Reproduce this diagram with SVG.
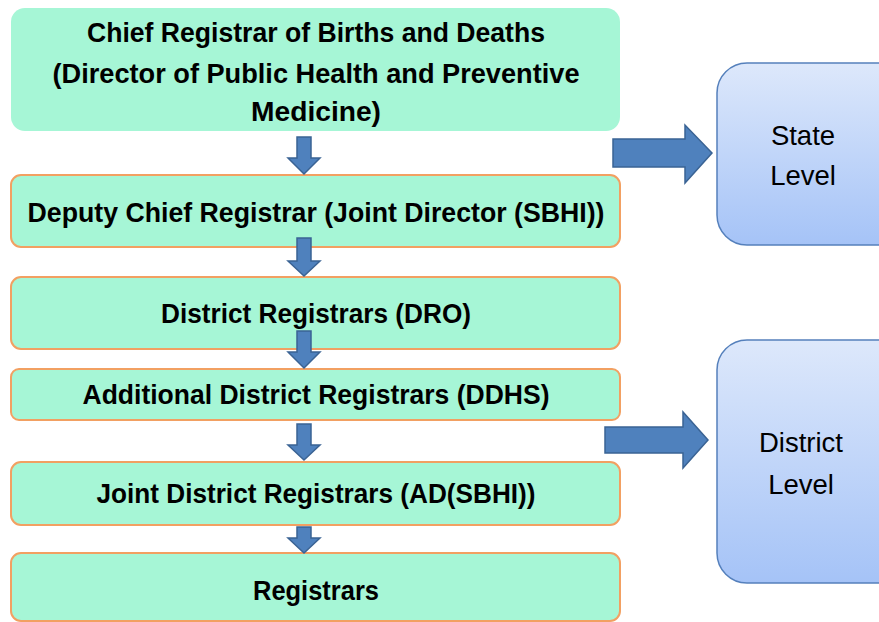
<svg xmlns="http://www.w3.org/2000/svg" width="879" height="622" viewBox="0 0 879 622">
<defs>
<linearGradient id="blueGrad" x1="0" y1="0" x2="0" y2="1">
<stop offset="0" stop-color="#DDE8FB"/>
<stop offset="1" stop-color="#A5C3F7"/>
</linearGradient>
<style>
.box{fill:#A6F6D6;stroke:#F2A062;stroke-width:2}
.top{fill:#A6F6D6;stroke:none}
.lvl{fill:url(#blueGrad);stroke:#5580BC;stroke-width:1.5}
.t{font-family:"Liberation Sans",Arial,sans-serif;font-weight:bold;font-size:27.5px;fill:#000;text-anchor:middle}
.l{font-family:"Liberation Sans",Arial,sans-serif;font-size:27.5px;fill:#000;text-anchor:middle}
.arr{fill:#4F81BD;stroke:#3A6394;stroke-width:1.5}
</style>
</defs>
<g id="chief">
<rect class="top" x="11" y="8" width="609" height="123" rx="14"/>
<text class="t" x="316" y="42" textLength="458" lengthAdjust="spacingAndGlyphs">Chief Registrar of Births and Deaths</text>
<text class="t" x="316" y="83" textLength="527" lengthAdjust="spacingAndGlyphs">(Director of Public Health and Preventive</text>
<text class="t" x="316" y="121" textLength="130" lengthAdjust="spacingAndGlyphs">Medicine)</text>
</g>
<g id="deputy">
<rect class="box" x="11" y="175" width="609" height="72" rx="10"/>
<text class="t" x="316" y="222" textLength="577" lengthAdjust="spacingAndGlyphs">Deputy Chief Registrar (Joint Director (SBHI))</text>
</g>
<g id="dro">
<rect class="box" x="11" y="277" width="609" height="72" rx="10"/>
<text class="t" x="316" y="323" textLength="310" lengthAdjust="spacingAndGlyphs">District Registrars (DRO)</text>
</g>
<g id="ddhs">
<rect class="box" x="11" y="369" width="609" height="51" rx="8"/>
<text class="t" x="316" y="404" textLength="467" lengthAdjust="spacingAndGlyphs">Additional District Registrars (DDHS)</text>
</g>
<g id="adsbhi">
<rect class="box" x="11" y="462" width="609" height="63" rx="10"/>
<text class="t" x="316" y="503" textLength="439" lengthAdjust="spacingAndGlyphs">Joint District Registrars (AD(SBHI))</text>
</g>
<g id="registrars">
<rect class="box" x="11" y="553" width="609" height="68" rx="10"/>
<text class="t" x="316" y="600" textLength="126" lengthAdjust="spacingAndGlyphs">Registrars</text>
</g>
<g id="state">
<rect class="lvl" x="717" y="63" width="190" height="182" rx="30"/>
<text class="l" x="803" y="145">State</text>
<text class="l" x="803" y="185">Level</text>
</g>
<g id="district">
<rect class="lvl" x="717" y="340" width="190" height="243" rx="30"/>
<text class="l" x="801" y="452">District</text>
<text class="l" x="801" y="494">Level</text>
</g>
<g id="connectors">
<polygon class="arr" points="297,137 311,137 311,158 320,158 304,174 288,158 297,158"/>
<polygon class="arr" points="297,238 311,238 311,261 320,261 304,276 288,261 297,261"/>
<polygon class="arr" points="297,331 311,331 311,352 320,352 304,368 288,352 297,352"/>
<polygon class="arr" points="297,424 311,424 311,445 320,445 304,460 288,445 297,445"/>
<polygon class="arr" points="297,527 311,527 311,538 320,538 304,553 288,538 297,538"/>
<polygon class="arr" points="613,139 685,139 685,125 712,153 685,183 685,167 613,167"/>
<polygon class="arr" points="605,427 683,427 683,412 708,440 683,468 683,453 605,453"/>
</g>
</svg>
